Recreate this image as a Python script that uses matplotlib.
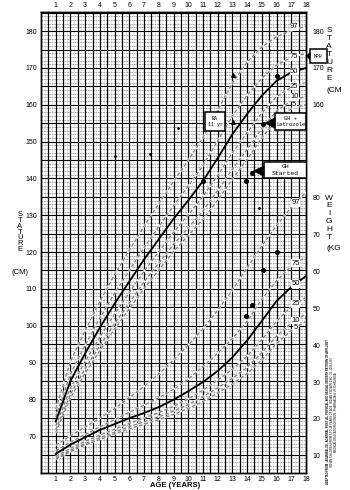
import numpy as np
import matplotlib.pyplot as plt
from matplotlib.patches import Polygon, Rectangle

plt.rcParams['font.family'] = ['Liberation Sans', 'DejaVu Sans']

W, H = 350, 490

ages = list(range(1, 19))

# stature percentiles (cm)
st_p97 = [77.4, 90.3, 98.7, 106.6, 113.9, 120.5, 127.0, 133.1, 139.2, 144.9, 151.1, 158.5, 165.9, 171.6, 175.7, 178.5, 180.1, 181.3]
st_p75 = [75.2, 86.9, 94.7, 102.1, 108.8, 115.0, 121.2, 126.9, 132.6, 137.9, 143.5, 150.2, 157.0, 162.6, 167.2, 170.8, 172.8, 174.0]
st_p50 = [74.0, 85.0, 92.5, 99.5, 106.0, 112.0, 118.0, 123.5, 129.0, 134.0, 139.3, 145.5, 152.0, 157.5, 162.5, 166.5, 168.8, 170.0]
st_p25 = [72.8, 83.1, 90.3, 96.9, 103.2, 109.0, 114.8, 120.1, 125.4, 130.1, 135.1, 140.8, 147.0, 152.4, 157.8, 162.2, 164.8, 166.0]
st_p10 = [71.7, 81.4, 88.3, 94.6, 100.6, 106.2, 111.9, 117.0, 122.1, 126.6, 131.2, 136.7, 142.5, 147.9, 153.5, 158.3, 161.1, 162.3]
st_p5 = [71.0, 80.4, 87.1, 93.2, 99.1, 104.6, 110.1, 115.1, 120.1, 124.5, 128.9, 134.1, 139.8, 145.2, 151.0, 156.0, 158.9, 160.1]

# weight percentiles (kg)
wt_p97 = [12.8, 15.4, 17.8, 20.2, 22.8, 25.8, 28.8, 32.2, 36.0, 40.0, 44.5, 49.5, 55.0, 61.0, 67.0, 72.5, 77.5, 81.5]
wt_p75 = [11.3, 13.7, 15.8, 17.8, 19.8, 21.8, 23.7, 25.7, 28.0, 30.8, 34.2, 37.8, 41.8, 46.5, 52.5, 57.5, 61.5, 64.0]
wt_p50 = [10.5, 13.0, 15.0, 17.0, 18.6, 20.2, 21.6, 23.2, 25.2, 27.5, 30.0, 33.0, 36.7, 41.3, 46.6, 52.0, 55.8, 58.8]
wt_p25 = [9.8, 12.0, 13.9, 15.6, 17.2, 18.8, 20.2, 21.7, 23.4, 25.4, 27.8, 30.5, 33.5, 37.0, 41.5, 46.5, 50.5, 53.0]
wt_p10 = [9.3, 11.5, 13.3, 14.9, 16.4, 17.9, 19.2, 20.6, 22.1, 23.9, 26.0, 28.4, 31.0, 34.0, 38.0, 42.5, 46.0, 48.5]
wt_p5 = [9.0, 11.1, 12.9, 14.4, 15.9, 17.3, 18.5, 19.8, 21.2, 22.8, 24.7, 27.0, 29.5, 32.3, 36.0, 40.5, 44.0, 46.5]

st_curves = {'97': st_p97, '75': st_p75, '50': st_p50, '25': st_p25, '10': st_p10, '5': st_p5}
wt_curves = {'97': wt_p97, '75': wt_p75, '50': wt_p50, '25': wt_p25, '10': wt_p10, '5': wt_p5}

# patient measurements
pt_st_age = [11.0, 13.9, 14.3, 15.1, 16.05]
pt_st = [139.2, 139.2, 141.5, 154.8, 167.7]
ba_age = [13.05, 13.05]
ba_st = [155.2, 168.0]
pt_wt_age = [13.9, 14.3, 15.1, 16.0]
pt_wt = [48.0, 51.0, 60.3, 65.3]
speck_age = [5.0, 7.4, 9.3]
speck_st = [146.0, 146.5, 153.7]

def fx(x):
    return x / W

def fy(y):
    return 1 - y / H

fig = plt.figure(figsize=(W / 100, H / 100), dpi=100)
ax = fig.add_axes([fx(41), fy(473), (306 - 41) / W, (473 - 12) / H])
ax.set_xlim(0, 18)
ax.set_ylim(60, 185.2)

# graph-paper grid
for x in np.arange(0.25, 18, 0.5):
    ax.axvline(x, color='#cfcfcf', lw=0.4, zorder=1)
for x in np.arange(0.5, 18, 0.5):
    ax.axvline(x, color='k', lw=0.9, zorder=2)
for y in range(61, 186):
    if y % 5:
        ax.axhline(y, color='#8c8c8c', lw=0.5, ls=(0, (2.5, 1.2)), zorder=1)
    else:
        ax.axhline(y, color='k', lw=0.8, zorder=2)

def curves(a, table):
    for name, vals in table.items():
        if name == '50':
            a.plot(ages, vals, color='k', lw=1.3, zorder=4)
        else:
            a.plot(ages, vals, color='white', lw=1.3, zorder=3)
            a.plot(ages, vals, color='#7c7c7c', lw=0.9, ls=(0, (3, 1.5)), zorder=3.5)

curves(ax, st_curves)
st_off = {'97': 0.8, '75': 0.0, '50': 0.0, '25': 0.0, '10': 0.8, '5': 1.0}
for name, vals in st_curves.items():
    ax.text(17.2, np.interp(17.2, ages, vals) + st_off[name], name, fontsize=5.5,
            ha='center', va='center', zorder=6,
            bbox=dict(fc='white', ec='none', pad=0.2))

ax.plot(pt_st_age, pt_st, 'o', color='k', ms=2.6, zorder=7, ls='none')
ax.plot(ba_age, ba_st, '^', color='k', ms=2.6, zorder=7, ls='none')
ax.plot(speck_age, speck_st, 'o', color='k', ms=1.0, zorder=7, ls='none')

# weight on its own scale
axw = ax.twinx()
axw.set_ylim(60 - 54.7, 185.2 - 54.7)
curves(axw, wt_curves)
for name, vals in wt_curves.items():
    axw.text(17.3, np.interp(17.3, ages, vals), name, fontsize=5.5,
             ha='center', va='center', zorder=6,
             bbox=dict(fc='white', ec='none', pad=0.2))
axw.plot(pt_wt_age, pt_wt, 'o', color='k', ms=2.6, zorder=7, ls='none')
axw.plot([14.8], [77.4], 'o', color='k', ms=1.0, zorder=7, ls='none')

# ticks
ax.set_xticks(ages)
ax.tick_params(axis='x', length=0, labelsize=5, labeltop=True, pad=2)
ax.set_yticks(range(70, 181, 10))
ax.tick_params(axis='y', length=0, labelsize=5, pad=3)
axw.set_yticks(range(10, 81, 10))
axw.tick_params(axis='y', length=0, labelsize=5, pad=5)
sec = ax.secondary_yaxis('right')
sec.set_yticks([160, 170, 180])
sec.tick_params(length=0, labelsize=5, pad=5)
for a in (ax, axw):
    for s in a.spines.values():
        s.set_linewidth(1.0)

# annotation boxes
def box(x0, y0, w, h, txt, fs=4.3, clip=True):
    ax.add_patch(Rectangle((x0, y0), w, h, fc='white', ec='k', lw=1.1,
                           zorder=10, clip_on=clip))
    ax.text(x0 + w / 2, y0 + h / 2, txt, fontsize=fs, ha='center', va='center',
            family='Liberation Mono', linespacing=1.3, zorder=11, clip_on=False)

def wedge(pts, clip=True):
    ax.add_patch(Polygon(pts, closed=True, fc='k', ec='k', lw=0.5,
                         zorder=10, clip_on=clip))

box(11.15, 152.9, 1.35, 5.1, 'BA\n11 yr', fs=3.6)
box(15.9, 153.2, 2.1, 4.6, 'GH +\nLetrozole', fs=4.0)
wedge([(15.22, 155.05), (15.9, 156.5), (15.9, 153.6)])
box(15.15, 140.1, 2.9, 4.4, 'GH\nStarted', fs=4.6)
wedge([(14.42, 142.0), (15.15, 143.4), (15.15, 140.6)])
box(18.27, 171.35, 1.16, 3.8, 'MPH', fs=3.4, clip=False)
wedge([(18.03, 173.25), (18.27, 174.2), (18.27, 172.3)], clip=False)

# side captions
for i, ch in enumerate('STATURE'):
    fig.text(fx(20), fy(215 + i * 5.7), ch, fontsize=5.5, ha='center', va='center')
fig.text(fx(20), fy(273), '(CM)', fontsize=5.5, ha='center', va='center')
for i, ch in enumerate('STATURE'):
    fig.text(fx(329), fy(31 + i * 8), ch, fontsize=6, ha='center', va='center')
fig.text(fx(334), fy(90), '(CM', fontsize=6, ha='center', va='center')
for i, ch in enumerate('WEIGHT'):
    fig.text(fx(329), fy(198 + i * 7.8), ch, fontsize=6, ha='center', va='center')
fig.text(fx(334), fy(248), '(KG', fontsize=6, ha='center', va='center')
fig.text(fx(175), fy(485), 'AGE (YEARS)', fontsize=5.5, weight='bold',
         ha='center', va='center')

fig.text(fx(327), fy(412), 'ADAPTED FROM : AGARWAL DK, AGARWAL KN ET AL. PHYSICAL AND SEXUAL GROWTH PATTERN OF AFFLUENT',
         fontsize=1.9, weight='bold', rotation=90, ha='center', va='center')
fig.text(fx(332), fy(412), 'INDIAN CHILDREN FROM 5 TO 18 YEARS OF AGE. INDIAN PEDIATR 1992; 29: 1203-1282',
         fontsize=1.9, rotation=90, ha='center', va='center')
fig.text(fx(336), fy(412), 'MEDICAL EDUCATION DIVISION, PHARMACIA & UPJOHN INDIA',
         fontsize=1.9, rotation=90, ha='center', va='center')

fig.savefig('out.png', dpi=100)
